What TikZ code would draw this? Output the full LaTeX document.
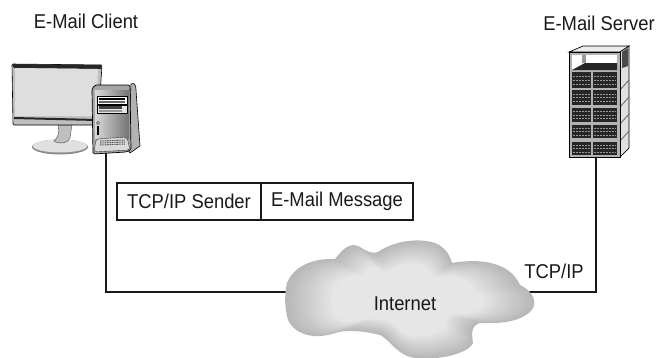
\documentclass[tikz,border=0pt]{standalone}
\usepackage{fontspec}
\usetikzlibrary{positioning}
\setmainfont[FakeStretch=0.92]{Liberation Sans}
\tikzset{
  txt/.style={font=\fontsize{20}{22}\selectfont,text=black!90,inner sep=0pt},
  link/.style={line width=2pt,black!90},
  msgbox/.style={draw=black!90,line width=2pt,minimum height=37pt,inner sep=0pt,txt},
}
\newcommand{\cloudpath}{(287,283) .. controls (293,268) and (310,258) .. (335,259)
  .. controls (342,250) and (350,241) .. (360,247)
  .. controls (368,252) and (372,254) .. (378,252)
  .. controls (395,240) and (420,238) .. (435,243)
  .. controls (445,247) and (450,255) .. (452,263)
  .. controls (480,258) and (510,262) .. (520,285)
  .. controls (535,292) and (538,305) .. (530,312)
  .. controls (515,325) and (490,323) .. (480,323)
  .. controls (470,326) and (472,335) .. (473,343)
  .. controls (468,355) and (430,362) .. (410,357)
  .. controls (395,352) and (390,340) .. (380,335)
  .. controls (360,330) and (345,330) .. (335,333)
  .. controls (315,340) and (295,335) .. (288,320)
  .. controls (285,310) and (284,295) .. (287,283) -- cycle}
\begin{document}
\begin{tikzpicture}[x=1pt,y=-1pt]
\useasboundingbox (0,0) rectangle (657,357);

\coordinate (clientport) at (106,150);
\coordinate (serverport) at (596,155);
\coordinate (cloudwest) at (295,292);
\coordinate (cloudeast) at (525,292);
\draw[link] (clientport) |- (cloudwest);
\draw[link] (serverport) |- (cloudeast);

% cloud
\foreach \i [evaluate=\i as \s using 1-0.028*\i, evaluate=\i as \c using 28-1.3*\i] in {0,...,14}
  \fill[black!\c,shift={(405,300)},scale=\s,shift={(-405,-300)}] \cloudpath;
\node[txt] (internet) at (405,304) {Internet};

% monitor
\fill[black!45] (60,147) ellipse (28 and 7.5);
\fill[black!12] (60,146) ellipse (27 and 6.5);
\draw[black!70,fill=black!25] (58,125) .. controls (60,133) and (58,137) .. (54,141) .. controls (60,145) and (68,143) .. (70,138) .. controls (71,133) and (71,129) .. (72,125) -- cycle;
\draw[black,line width=0.6pt,fill=black!25,rounded corners=1pt] (12,64) -- (102,65) -- (98,125) -- (13,125) -- cycle;
\fill[black!85] (12,64) -- (102,65) -- (101,69) -- (14,68) -- cycle;
\fill[black!13] (15,68) -- (98,69) -- (96,116) -- (15,116) -- cycle;
\fill[black!85] (14,117) -- (97,119) -- (97,121) -- (14,119) -- cycle;

% tower
\draw[black,line width=0.6pt,fill=black!30] (131,84) .. controls (135,82) and (136,86) .. (136,90) -- (140,146) -- (130,153) -- (128,150) -- cycle;
\draw[black,line width=0.7pt,fill=black!35,rounded corners=1.5pt] (92,89) -- (95,85) -- (130,85) -- (131,150) -- (126,152) -- (93,154) -- cycle;
\shade[left color=black!15,right color=black!55] (95,90) rectangle (129,138);
\draw[black,fill=white] (97,96) rectangle (127,104);
\fill[black] (99,98) rectangle (125,100);
\fill[black!60] (99,101) rectangle (125,103);
\draw[black,fill=black!10] (97,105) rectangle (127,113);
\fill[black!75] (99,106) rectangle (122,109);
\fill[black!40] (99,110) rectangle (122,112);
\draw[black!80,fill=white] (98,123) circle (1.5);
\fill[black] (97,126) rectangle (99,135);
\draw[black!80,fill=black!15,rounded corners=3pt] (94,152) -- (96,139) -- (127,137) -- (130,150) -- cycle;
\foreach \y in {141,143,145}
  \draw[black!70,line width=1pt,dash pattern=on 1pt off 0.7pt] (100,\y) -- (125,\y-1);

% server
\draw[black,line width=0.7pt,fill=black!8] (569,52) -- (583,46) -- (629,46) -- (620,52) -- cycle;
\draw[black,line width=0.7pt,fill=black!12] (620,52) -- (629,46) -- (629,148) -- (620,157) -- cycle;
\fill[black!70] (622,52) -- (628,48) -- (628,66) -- (622,68) -- cycle;
\foreach \y in {84,101,118,135}
  \draw[black!60,line width=0.8pt] (620,\y+6) -- (629,\y-4);
\draw[black,line width=1pt,fill=black!30] (569,52) rectangle (620,157);
\fill[white] (572,55) rectangle (617,70);
\fill[black!40] (582,55) rectangle (586,63);
\fill[black!85] (572,70) -- (585,63) -- (617,63) -- (617,70) -- cycle;
\foreach \yt/\yb in {72/88,90/105,108/122,125/138,142/155} {
  \fill[black!85] (572,\yt) rectangle (591,\yb);
  \fill[black!85] (593,\yt) rectangle (617,\yb);
  \foreach \r in {0.25,0.5,0.75} {
    \draw[black!40,line width=0.5pt,dash pattern=on 1.5pt off 1.5pt] (573,{\yt+\r*(\yb-\yt)}) -- (590,{\yt+\r*(\yb-\yt)});
    \draw[black!40,line width=0.5pt,dash pattern=on 1.5pt off 1.5pt] (594,{\yt+\r*(\yb-\yt)}) -- (616,{\yt+\r*(\yb-\yt)});
  }
}

% message box
\node[msgbox,minimum width=144pt] (sender) at (189,201.5) {TCP/IP Sender};
\node[msgbox,minimum width=152pt,right=-2pt of sender] (message) {E-Mail Message};

\node[txt] (clientlabel) at (86,21) {E-Mail Client};
\node[txt] (serverlabel) at (599,23) {E-Mail Server};
\node[txt] (tcpip) at (554,271) {TCP/IP};
\end{tikzpicture}
\end{document}
